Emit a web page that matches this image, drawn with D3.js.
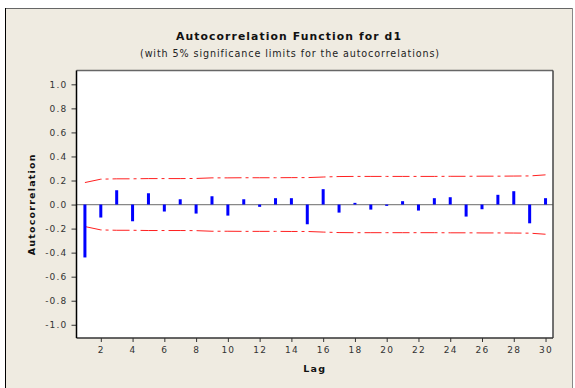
<!DOCTYPE html>
<html>
<head>
<meta charset="utf-8">
<script src="https://cdn.jsdelivr.net/npm/d3@7"></script>
<style>
  body { margin: 0; background: #fff; }
  text { font-family: "DejaVu Sans", Verdana, sans-serif; }
</style>
</head>
<body>
<div id="chart"></div>
<script>
// ACF values
const lags = d3.range(1, 31);
const acf = [-0.44, -0.108, 0.119, -0.139, 0.094, -0.058, 0.044, -0.075, 0.069, -0.092,
  0.044, -0.019, 0.053, 0.053, -0.164, 0.128, -0.067, 0.014, -0.042, -0.011,
  0.028, -0.05, 0.053, 0.061, -0.1, -0.039, 0.081, 0.111, -0.156, 0.053];
// 5% significance limits (upper; lower is the mirror)
const upperLim = [0.183, 0.211, 0.214, 0.214, 0.216, 0.216, 0.216, 0.217, 0.222, 0.222,
  0.223, 0.223, 0.223, 0.224, 0.224, 0.229, 0.233, 0.234, 0.234, 0.234,
  0.234, 0.234, 0.234, 0.235, 0.235, 0.236, 0.236, 0.237, 0.238, 0.247];
const yTicks = [-1.0, -0.8, -0.6, -0.4, -0.2, 0.0, 0.2, 0.4, 0.6, 0.8, 1.0];
const xTicks = d3.range(2, 31, 2);

const width = 575, height = 388;
const plot = {left: 76.5, right: 553, top: 70.5, bottom: 338};

const svg = d3.select("#chart").append("svg")
  .attr("width", width)
  .attr("height", height);

// beige frame
svg.append("rect")
  .attr("x", 5).attr("y", 8)
  .attr("width", 567).attr("height", 380)
  .attr("fill", "#efebe1");
svg.append("line").attr("x1", 5).attr("x2", 572).attr("y1", 8.5).attr("y2", 8.5)
  .attr("stroke", "#666");
svg.append("line").attr("x1", 5.5).attr("x2", 5.5).attr("y1", 8).attr("y2", 388)
  .attr("stroke", "#000");
svg.append("line").attr("x1", 572.5).attr("x2", 572.5).attr("y1", 8).attr("y2", 388)
  .attr("stroke", "#888");

const x = d3.scaleLinear().domain([0.47, 30.47]).range([plot.left, plot.right]);
const y = d3.scaleLinear().domain([-1.11, 1.115]).range([plot.bottom, plot.top]);

// plot area
svg.append("rect")
  .attr("x", plot.left).attr("y", plot.top)
  .attr("width", plot.right - plot.left).attr("height", plot.bottom - plot.top)
  .attr("fill", "#fff");

// titles
svg.append("text")
  .attr("x", 289).attr("y", 40)
  .attr("text-anchor", "middle")
  .attr("font-size", 10.8).attr("font-weight", "bold")
  .attr("letter-spacing", 1.1)
  .attr("fill", "#111")
  .text("Autocorrelation Function for d1");
svg.append("text")
  .attr("x", 290).attr("y", 56.5)
  .attr("text-anchor", "middle")
  .attr("font-size", 9.6)
  .attr("letter-spacing", 0.9)
  .attr("fill", "#222")
  .text("(with 5% significance limits for the autocorrelations)");

// axes
const yAxis = d3.axisLeft(y).tickValues(yTicks).tickSize(5).tickSizeOuter(0)
  .tickFormat(d3.format(".1f"));
const gy = svg.append("g").attr("transform", `translate(${plot.left},0)`).call(yAxis);
gy.select(".domain").remove();
gy.selectAll("text").attr("font-size", 9).attr("letter-spacing", 1.2).attr("fill", "#333")
  .attr("x", -9).text(d => d3.format(".1f")(d).replace("−", "-"));
gy.selectAll("line").attr("stroke", "#333");

const xAxis = d3.axisBottom(x).tickValues(xTicks).tickSize(4).tickSizeOuter(0);
const gx = svg.append("g").attr("transform", `translate(0,${plot.bottom})`).call(xAxis);
gx.select(".domain").remove();
gx.selectAll("text").attr("font-size", 9).attr("letter-spacing", 1.2).attr("fill", "#333")
  .attr("y", 9);
gx.selectAll("line").attr("stroke", "#333");

svg.append("text")
  .attr("x", (plot.left + plot.right) / 2).attr("y", 372)
  .attr("text-anchor", "middle")
  .attr("font-size", 9.5).attr("font-weight", "bold").attr("letter-spacing", 1.2)
  .attr("fill", "#111")
  .text("Lag");
svg.append("text")
  .attr("transform", `translate(35,${(plot.top + plot.bottom) / 2}) rotate(-90)`)
  .attr("text-anchor", "middle")
  .attr("font-size", 9.5).attr("font-weight", "bold").attr("letter-spacing", 1.2)
  .attr("fill", "#111")
  .text("Autocorrelation");

// zero line
svg.append("line")
  .attr("x1", plot.left).attr("x2", plot.right)
  .attr("y1", y(0)).attr("y2", y(0))
  .attr("stroke", "#888").attr("stroke-width", 1.2);

// significance limits
const limLine = d3.line().x((d, i) => x(lags[i])).y(d => y(d));
[upperLim, upperLim.map(v => -v)].forEach(arr => {
  svg.append("path")
    .attr("d", limLine(arr))
    .attr("fill", "none")
    .attr("stroke", "#ff2020")
    .attr("stroke-width", 1)
    .attr("stroke-dasharray", "17,4,3,4");
});

// ACF bars
svg.selectAll("rect.bar")
  .data(acf)
  .enter()
  .append("rect")
  .attr("class", "bar")
  .attr("x", (d, i) => x(lags[i]) - 1.5)
  .attr("y", d => y(Math.max(d, 0)))
  .attr("width", 3)
  .attr("height", d => Math.abs(y(d) - y(0)))
  .attr("fill", "#0000ff");

// plot border
svg.append("line").attr("x1", plot.left).attr("x2", plot.right).attr("y1", plot.top).attr("y2", plot.top)
  .attr("stroke", "#666").attr("stroke-width", 1.5);
svg.append("line").attr("x1", plot.right).attr("x2", plot.right).attr("y1", plot.top).attr("y2", plot.bottom)
  .attr("stroke", "#444").attr("stroke-width", 1.5);
svg.append("line").attr("x1", plot.left).attr("x2", plot.right).attr("y1", plot.bottom).attr("y2", plot.bottom)
  .attr("stroke", "#333").attr("stroke-width", 1.5);
svg.append("line").attr("x1", plot.left).attr("x2", plot.left).attr("y1", plot.top).attr("y2", plot.bottom)
  .attr("stroke", "#000").attr("stroke-width", 1.5);
</script>
</body>
</html>
